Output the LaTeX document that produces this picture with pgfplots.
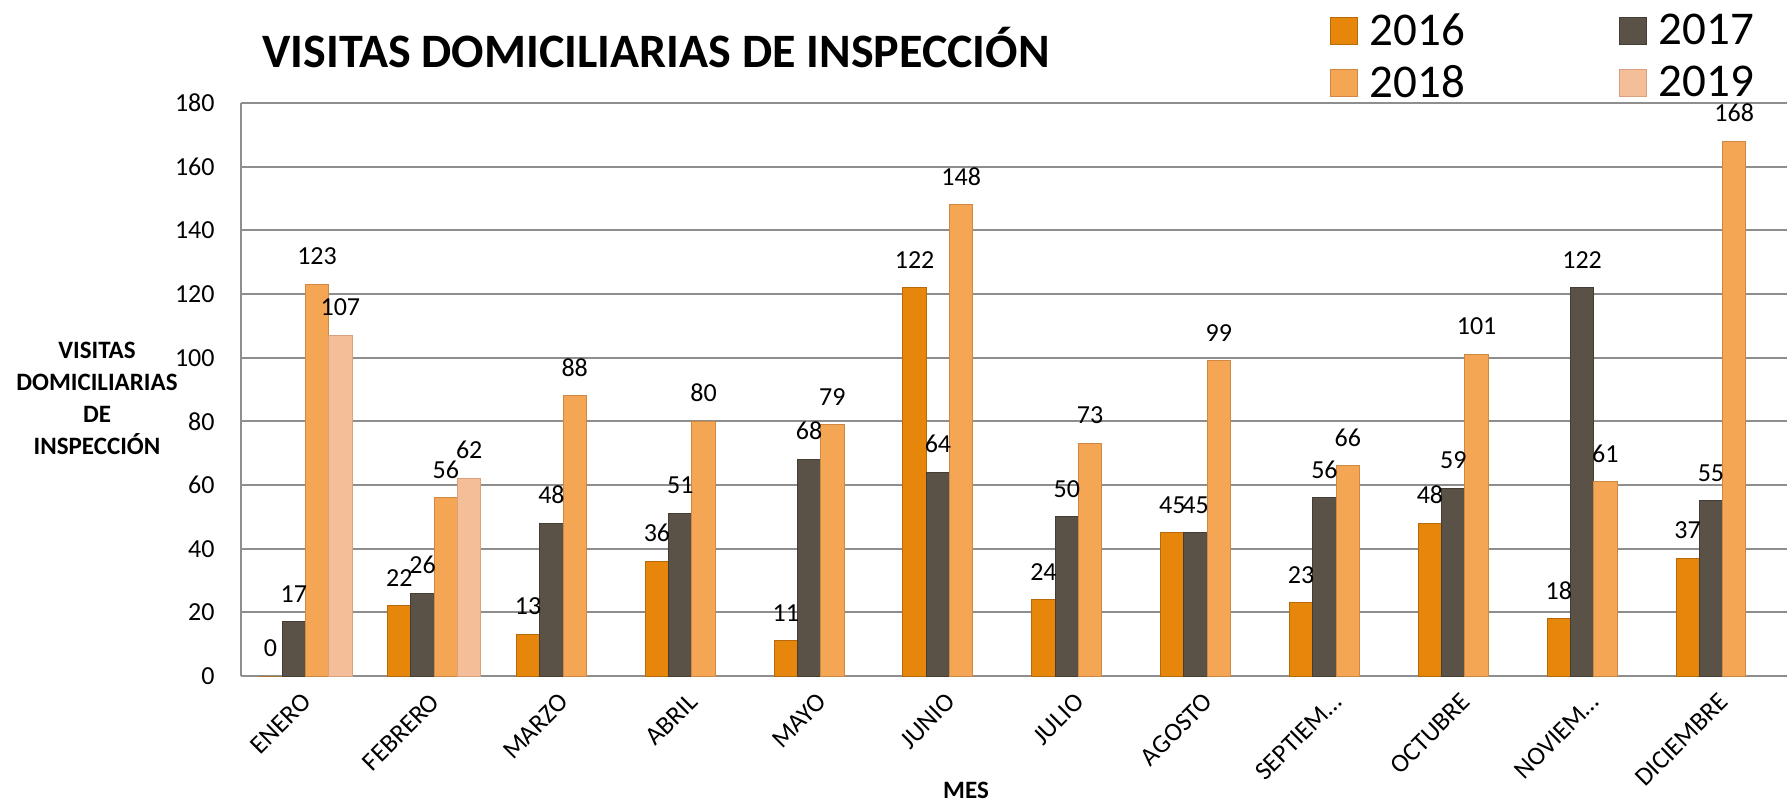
\documentclass[border=0pt]{standalone}
\usepackage{fontspec}
\setmainfont{Carlito}
\usepackage{pgfplots}
\pgfplotsset{compat=1.18}
\definecolor{c16}{HTML}{E6870B}
\definecolor{c16d}{HTML}{B8690A}
\definecolor{c17}{HTML}{5A5247}
\definecolor{c17d}{HTML}{433D35}
\definecolor{c18}{HTML}{F4A654}
\definecolor{c18d}{HTML}{CF8744}
\definecolor{c19}{HTML}{F3BE98}
\definecolor{c19d}{HTML}{D9A07E}
\definecolor{gridgray}{HTML}{8E8E8E}

\begin{document}
\begin{tikzpicture}
\useasboundingbox (0,0) rectangle (893.5pt,401.5pt);
\begin{axis}[
  at={(120.5pt,63.5pt)}, anchor=south west,
  scale only axis,
  width=773pt, height=286.5pt,
  xmin=-0.5, xmax=11.5,
  ymin=0, ymax=180,
  ytick={0,20,...,180},
  xtick={0,1,2,3,4,5,6,7,8,9,10,11},
  xticklabels={ENERO,FEBRERO,MARZO,ABRIL,MAYO,JUNIO,JULIO,AGOSTO,{SEPTIEM…},OCTUBRE,{NOVIEM…},DICIEMBRE},
  axis x line*=bottom,
  axis y line*=left,
  axis line style={gridgray, line width=1pt, -},
  major tick length=0pt,
  ymajorgrids,
  grid style={gridgray, line width=1pt},
  /pgf/number format/assume math mode=true,
  yticklabel style={font=\fontsize{13}{15}\selectfont, anchor=east, inner sep=0pt, xshift=-13pt},
  xticklabel style={font=\fontsize{13}{15}\selectfont, rotate=45, anchor=east, inner sep=0pt, xshift=-7.2pt, yshift=-8.1pt},
  ybar,
  bar width=11.65pt,
  nodes near coords,
  nodes near coords style={font=\fontsize{13}{15}\selectfont, anchor=south, inner sep=0pt, yshift=9.5pt, color=black},
  clip=false,
  legend columns=2,
  legend cell align=left,
  legend style={draw=none, fill=none, at={(rel axis cs:0.70,1.167)}, anchor=north west,
    font=\fontsize{23.5}{27}\selectfont,
    nodes={inner sep=1pt},
    row sep=6.5pt,
    /tikz/every odd column/.append style={column sep=5pt},
    /tikz/every even column/.append style={column sep=76pt}},
  legend image code/.code={\draw[#1] (0pt,-6.75pt) rectangle (13.5pt,6.75pt);},
]
\addplot[bar shift=-17.475pt, fill=c16, draw=c16d, line width=0.5pt] coordinates {
 (0,0) (1,22) (2,13) (3,36) (4,11) (5,122) (6,24) (7,45) (8,23) (9,48) (10,18) (11,37)
};
\addplot[bar shift=-5.825pt, fill=c17, draw=c17d, line width=0.5pt] coordinates {
 (0,17) (1,26) (2,48) (3,51) (4,68) (5,64) (6,50) (7,45) (8,56) (9,59) (10,122) (11,55)
};
\addplot[bar shift=5.825pt, fill=c18, draw=c18d, line width=0.5pt] coordinates {
 (0,123) (1,56) (2,88) (3,80) (4,79) (5,148) (6,73) (7,99) (8,66) (9,101) (10,61) (11,168)
};
\addplot[bar shift=17.475pt, fill=c19, draw=c19d, line width=0.5pt] coordinates {
 (0,107) (1,62)
};
\legend{2016,2017,2018,2019}
\end{axis}
\node[anchor=base west, inner sep=0pt, font=\fontsize{24}{28}\selectfont\bfseries] at (131pt,367.5pt) {VISITAS DOMICILIARIAS DE INSPECCIÓN};
\node[align=center, inner sep=0pt, font=\fontsize{12.5}{16}\selectfont\bfseries] at (48.5pt,202.5pt) {VISITAS\\DOMICILIARIAS\\DE\\INSPECCIÓN};
\node[inner sep=0pt, font=\fontsize{12.5}{15}\selectfont\bfseries] at (483pt,6.5pt) {MES};
\end{tikzpicture}
\end{document}
